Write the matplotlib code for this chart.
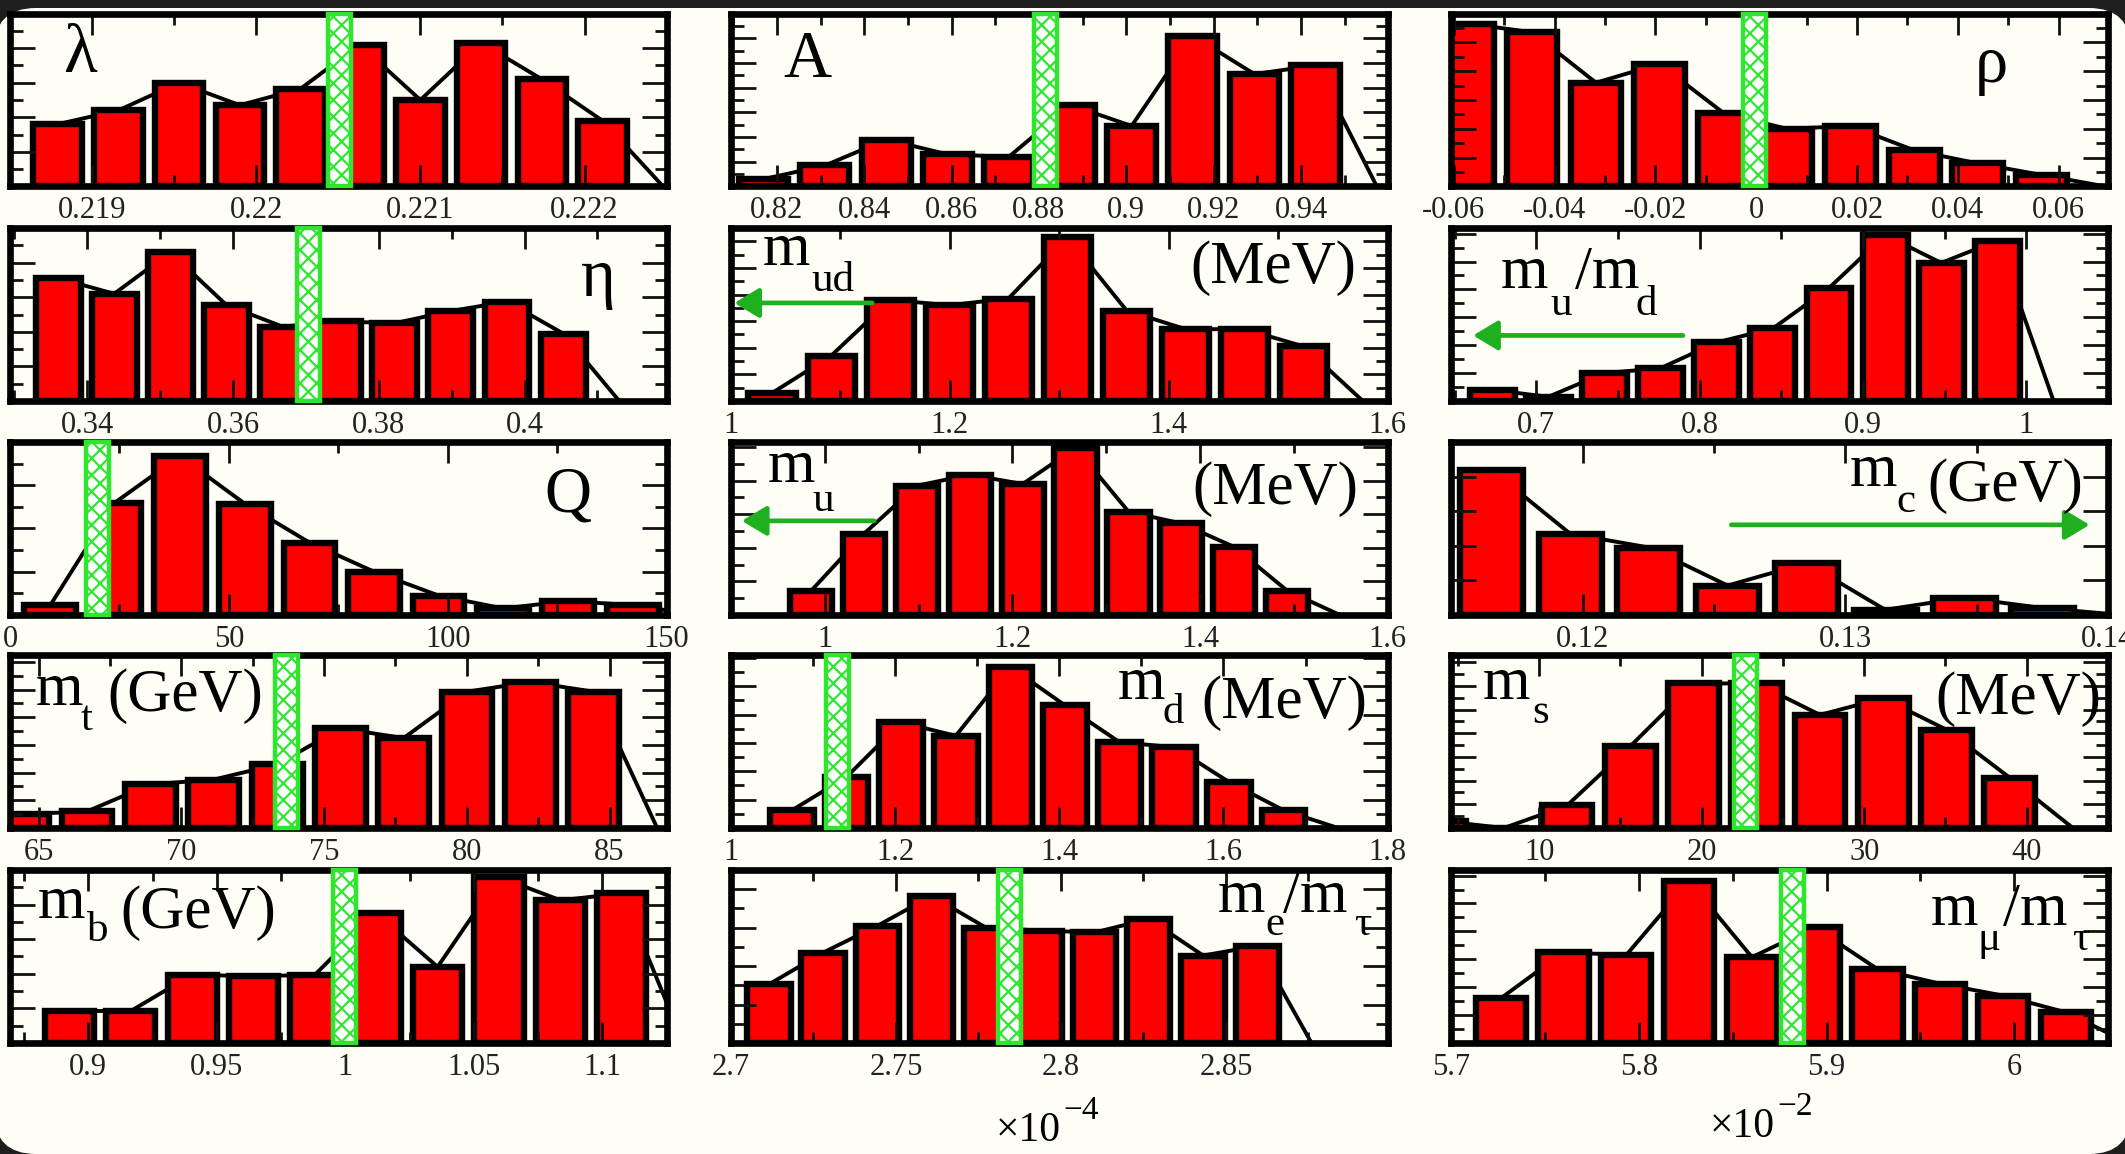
import numpy as np
import matplotlib
matplotlib.use('Agg')
import matplotlib.pyplot as plt
from matplotlib.patches import Rectangle, FancyBboxPatch
from matplotlib.ticker import MultipleLocator, FuncFormatter, NullLocator
from matplotlib.transforms import IdentityTransform

plt.rcParams['font.family'] = ['Liberation Serif', 'DejaVu Serif']
plt.rcParams['hatch.linewidth'] = 1.6

# histogram bin centres and counts, one pair per parameter
lam_x = [0.21879, 0.21916, 0.21953, 0.21990, 0.22027, 0.22063, 0.22100, 0.22137, 0.22174, 0.22211]
lam_n = [3.6, 4.4, 6.0, 4.7, 5.65, 8.2, 5.0, 8.3, 6.2, 3.8]
A_x = [0.8170, 0.8310, 0.8451, 0.8591, 0.8731, 0.8872, 0.9012, 0.9152, 0.9293, 0.9433]
A_n = [0.6, 1.7, 3.8, 2.6, 2.4, 6.6, 4.9, 12.2, 9.1, 9.8]
rho_x = [-0.0571, -0.0445, -0.0318, -0.0192, -0.0065, 0.0061, 0.0187, 0.0314, 0.0440, 0.0567]
rho_n = [11.3, 10.7, 7.2, 8.5, 5.1, 4.0, 4.2, 2.5, 1.6, 0.8]
eta_x = [0.3360, 0.3437, 0.3514, 0.3591, 0.3668, 0.3745, 0.3822, 0.3899, 0.3976, 0.4053]
eta_n = [7.1, 6.2, 8.6, 5.55, 4.3, 4.6, 4.5, 5.2, 5.75, 3.9]
mud_x = [1.0375, 1.0915, 1.1455, 1.1995, 1.2535, 1.3075, 1.3615, 1.4154, 1.4694, 1.5234]
mud_n = [0.6, 3.4, 7.6, 7.2, 7.7, 12.3, 6.8, 5.4, 5.4, 4.1]
rud_x = [0.6729, 0.7073, 0.7417, 0.7760, 0.8104, 0.8448, 0.8792, 0.9136, 0.9479, 0.9823]
rud_n = [0.8, 0.3, 2.0, 2.35, 4.2, 5.2, 8.1, 11.9, 9.9, 11.5]
Q_x = [9.2, 24.0, 38.8, 53.6, 68.4, 83.2, 97.9, 112.7, 127.5, 142.3]
Q_n = [0.45, 5.2, 7.35, 5.15, 3.35, 2.0, 0.9, 0.3, 0.65, 0.45]
mu_x = [0.9856, 1.0420, 1.0983, 1.1547, 1.2110, 1.2674, 1.3238, 1.3801, 1.4365, 1.4928]
mu_n = [1.45, 4.85, 7.7, 8.35, 7.8, 9.95, 6.15, 5.45, 4.05, 1.45]
mc_x = [0.11652, 0.11952, 0.12252, 0.12552, 0.12852, 0.13152, 0.13452, 0.13752]
mc_n = [4.2, 2.35, 1.95, 0.85, 1.5, 0.15, 0.5, 0.2]
mt_x = [64.48, 66.70, 68.92, 71.14, 73.36, 75.58, 77.79, 80.01, 82.23, 84.45]
mt_n = [1.0, 1.2, 3.15, 3.5, 4.6, 7.2, 6.5, 9.85, 10.55, 9.85]
md_x = [1.0743, 1.1408, 1.2074, 1.2739, 1.3405, 1.4070, 1.4735, 1.5401, 1.6066, 1.6732]
md_n = [1.25, 3.6, 7.45, 6.5, 11.35, 8.65, 6.05, 5.7, 3.25, 1.25]
ms_x = [3.94, 7.83, 11.72, 15.61, 19.50, 23.39, 27.28, 31.17, 35.06, 38.95]
ms_n = [0.6, 0.0, 1.9, 6.9, 12.2, 12.2, 9.55, 10.95, 8.3, 4.25]
mb_x = [0.8926, 0.9165, 0.9404, 0.9643, 0.9882, 1.0120, 1.0359, 1.0598, 1.0837, 1.1076]
mb_n = [1.85, 1.85, 3.95, 3.85, 3.95, 7.5, 4.4, 9.6, 8.25, 8.65]
me_x = [2.7115, 2.7279, 2.7444, 2.7608, 2.7773, 2.7937, 2.8102, 2.8266, 2.8431, 2.8595]
me_n = [3.05, 4.7, 6.1, 7.65, 6.0, 5.85, 5.75, 6.45, 4.55, 5.05]
mmu_x = [5.7263, 5.7598, 5.7932, 5.8267, 5.8602, 5.8936, 5.9271, 5.9606, 5.9940, 6.0275]
mmu_n = [3.2, 6.5, 6.3, 11.6, 6.15, 8.3, 5.3, 4.25, 3.4, 2.2]

# reference values (hatched band) and bounds (arrows: start, end)
lam_c, A_c, rho_c, eta_c, Q_c = 0.22051, 0.8815, -0.0004, 0.3703, 19.9
mt_c, md_c, ms_c, mb_c, me_c, mmu_c = 73.7, 1.130, 22.7, 0.9995, 2.7845, 5.8817
mud_arrow = (1.129, 1.003)
rud_arrow = (0.7898, 0.6613)
mu_arrow = (1.0526, 0.9115)
mc_arrow = (0.12566, 0.1393)

RED = '#ff0000'
BAND = '#2fe62f'
ARROW = '#1fb01f'
BG = '#fffef6'
BIG, SUB = 44, 31

fig = plt.figure(figsize=(21.25, 11.54), dpi=100)
fig.patch.set_facecolor('#1e1e1e')
fig.add_artist(FancyBboxPatch((-6, 0), 2137, 1146, boxstyle='round,pad=0,rounding_size=42',
                              transform=IdentityTransform(), facecolor=BG,
                              edgecolor='none', zorder=-10))

col_left = [0.0047, 0.344, 0.683]
row_bottom = [0.8384, 0.6525, 0.4671, 0.2825, 0.0962]
W, H = 0.309, 0.1499

fmt = FuncFormatter(lambda v, p: '%g' % round(v, 8))


def panel(r, c, x, n, ymax, xlim, step, ymaj=2, ymin=1, band=None, arrow=None, labels=()):
    ax = fig.add_axes([col_left[c], row_bottom[r], W, H])
    ax.set_facecolor('none')
    x = np.asarray(x)
    n = np.asarray(n)
    dx = np.diff(x).mean()
    # outline through bin tops, closing to zero one bin past the last
    ax.plot(np.append(x, x[-1] + dx), np.append(n, 0), color='k', lw=2.8, zorder=1)
    ax.bar(x, n, width=0.8 * dx, color=RED, edgecolor='k', linewidth=4.6, zorder=1.5)
    if band is not None:
        w = 23 / 657 * (xlim[1] - xlim[0])
        ax.add_patch(Rectangle((band - w / 2, 0), w, 1, transform=ax.get_xaxis_transform(),
                               facecolor='white', edgecolor=BAND, hatch='xx', lw=3.2,
                               zorder=4, clip_on=False))
    if arrow is not None:
        (x0, x1), ya = arrow
        ax.annotate('', xy=(x1, ya), xytext=(x0, ya), xycoords=('data', 'axes fraction'),
                    arrowprops=dict(arrowstyle='-|>,head_length=0.5,head_width=0.3',
                                    color=ARROW, lw=3.4, mutation_scale=30,
                                    shrinkA=0, shrinkB=0), zorder=4)
    for txt, tx, ty, size, ha, va in labels:
        ax.text(tx, ty, txt, transform=ax.transAxes, fontsize=size, ha=ha, va=va, zorder=6)
    ax.set_xlim(*xlim)
    ax.set_ylim(0, ymax)
    ax.xaxis.set_major_locator(MultipleLocator(step))
    ax.xaxis.set_minor_locator(MultipleLocator(step / 2))
    ax.xaxis.set_major_formatter(fmt)
    ax.yaxis.set_major_locator(MultipleLocator(ymaj))
    if ymin:
        ax.yaxis.set_minor_locator(MultipleLocator(ymin))
    else:
        ax.yaxis.set_minor_locator(NullLocator())
    ax.tick_params(which='both', direction='in', top=True, right=True, labelleft=False,
                   width=2.0, color='#111111')
    ax.tick_params(axis='x', which='major', length=15, labelsize=22, pad=7, labelcolor='#222222')
    ax.tick_params(axis='x', which='minor', length=8)
    ax.tick_params(axis='y', which='major', length=18)
    ax.tick_params(axis='y', which='minor', length=9)
    for s in ax.spines.values():
        s.set_linewidth(4.8)
    return ax


def mlabel(sub, x, y, dy, sx, unit=None, ux=None, uy=None, uha='left'):
    out = [('m', x, y, BIG, 'left', 'baseline'), (sub, sx, y - dy, SUB, 'left', 'baseline')]
    if unit:
        out.append((unit, ux, uy, BIG, uha, 'baseline'))
    return out


panel(0, 0, lam_x, lam_n, 10, (0.2185, 0.2225), 0.001, band=lam_c,
      labels=[('λ', 0.107, 0.76, 50, 'center', 'center')])
panel(0, 1, A_x, A_n, 14, (0.8095, 0.9598), 0.02, band=A_c,
      labels=[('A', 0.116, 0.73, 48, 'center', 'center')])
panel(0, 2, rho_x, rho_n, 12, (-0.0605, 0.0698), 0.02, band=rho_c,
      labels=[('ρ', 0.822, 0.70, 48, 'center', 'center')])

panel(1, 0, eta_x, eta_n, 10, (0.3294, 0.4195), 0.02, band=eta_c,
      labels=[('η', 0.896, 0.70, 48, 'center', 'center')])
panel(1, 1, mud_x, mud_n, 13, (1.0, 1.6 + 1e-9), 0.2, arrow=(mud_arrow, 0.567),
      labels=mlabel('ud', 0.049, 0.788, 0.153, 0.122, '(MeV)', 0.952, 0.683, 'right'))
panel(1, 2, rud_x, rud_n, 12.4, (0.648, 1.05), 0.1, arrow=(rud_arrow, 0.379),
      labels=mlabel('u', 0.075, 0.655, 0.16, 0.151)
      + [('/m', 0.188, 0.655, BIG, 'left', 'baseline'), ('d', 0.281, 0.497, SUB, 'left', 'baseline')])

panel(2, 0, Q_x, Q_n, 8, (0.0, 150 + 1e-9), 50, band=Q_c,
      labels=[('Q', 0.849, 0.69, 47, 'center', 'center')])
panel(2, 1, mu_x, mu_n, 10.3, (0.9, 1.6 + 1e-9), 0.2, arrow=(mu_arrow, 0.544),
      labels=mlabel('u', 0.056, 0.77, 0.17, 0.124, '(MeV)', 0.955, 0.641, 'right'))
panel(2, 2, mc_x, mc_n, 5, (0.115, 0.14 + 1e-9), 0.01, ymaj=1, ymin=None,
      arrow=(mc_arrow, 0.521),
      labels=mlabel('c', 0.607, 0.745, 0.15, 0.677, '(GeV)', 0.962, 0.66, 'right'))

panel(3, 0, mt_x, mt_n, 12.5, (64.0, 87.0), 5, band=mt_c,
      labels=mlabel('t', 0.039, 0.712, 0.148, 0.108, '(GeV)', 0.148, 0.676))
panel(3, 1, md_x, md_n, 12.2, (1.0, 1.8 + 1e-9), 0.2, band=md_c,
      labels=mlabel('d', 0.589, 0.745, 0.138, 0.657, '(MeV)', 0.969, 0.635, 'right'))
panel(3, 2, ms_x, ms_n, 14.6, (4.6, 45.0), 10, band=ms_c,
      labels=mlabel('s', 0.048, 0.745, 0.14, 0.123, '(MeV)', 0.99, 0.657, 'right'))

panel(4, 0, mb_x, mb_n, 10, (0.8695, 1.125), 0.05, band=mb_c,
      labels=mlabel('b', 0.043, 0.725, 0.135, 0.118, '(GeV)', 0.168, 0.667))
panel(4, 1, me_x, me_n, 9, (2.7, 2.899), 0.05, band=me_c,
      labels=mlabel('e', 0.742, 0.759, 0.135, 0.814)
      + [('/m', 0.841, 0.759, BIG, 'left', 'baseline'), ('τ', 0.949, 0.624, SUB, 'left', 'baseline')])
panel(4, 2, mmu_x, mmu_n, 12.4, (5.7, 6.05), 0.1, band=mmu_c,
      labels=mlabel('μ', 0.73, 0.683, 0.145, 0.802)
      + [('/m', 0.84, 0.683, BIG, 'left', 'baseline'), ('τ', 0.945, 0.538, SUB, 'left', 'baseline')])

# scale factors under the last two columns
fig.text(0.4687, 0.0113, '×10', fontsize=30, ha='left', va='baseline')
fig.text(0.5003, 0.0300, '−4', fontsize=24, ha='left', va='baseline')
fig.text(0.8047, 0.0150, '×10', fontsize=30, ha='left', va='baseline')
fig.text(0.8363, 0.0337, '−2', fontsize=24, ha='left', va='baseline')

fig.savefig('out.png', dpi=100, facecolor=fig.get_facecolor())
